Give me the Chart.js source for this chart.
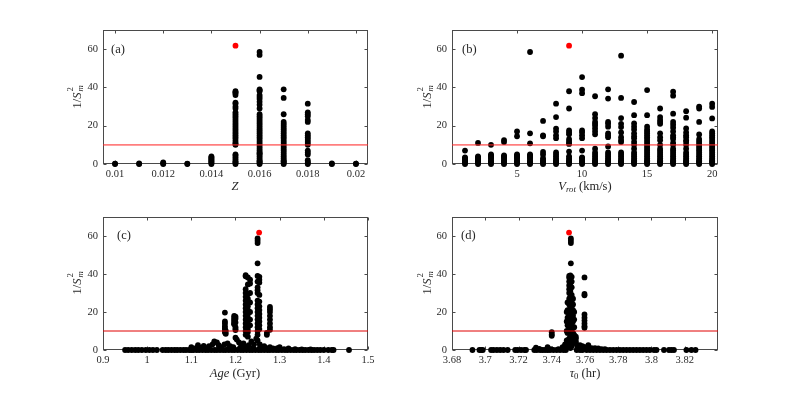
<!DOCTYPE html>
<html><head><meta charset="utf-8">
<script src="https://cdn.jsdelivr.net/npm/chart.js@4/dist/chart.umd.min.js"></script>
<style>
html,body{margin:0;padding:0;background:#fff;}
#wrap{position:relative;width:793px;height:394px;overflow:hidden;font-family:'Liberation Serif','Times New Roman',serif;color:#262626;}
canvas{position:absolute;}
.lbl{position:absolute;white-space:nowrap;font-size:12.5px;line-height:1;transform:translate(-50%,-50%);}
.ytitle{position:absolute;white-space:nowrap;font-size:12.5px;line-height:1;transform:translate(-50%,-50%) rotate(-90deg);}
.sx{position:relative;display:inline-block;width:0.55em;height:1em;vertical-align:baseline;}
.sp{position:absolute;left:0.1em;top:-0.4em;font-size:0.7em;line-height:1;}
.sb{position:absolute;left:0.1em;top:0.85em;font-size:0.7em;line-height:1;}
.panel{position:absolute;font-size:12.5px;line-height:1;transform:translateY(-50%);}
sub{font-size:0.7em;vertical-align:-0.3em;line-height:0;}
</style></head>
<body><div id="wrap">
<canvas id="cA" width="396" height="197" style="left:0;top:0"></canvas>
<canvas id="cB" width="397" height="197" style="left:396px;top:0"></canvas>
<canvas id="cC" width="396" height="197" style="left:0;top:197px"></canvas>
<canvas id="cD" width="397" height="197" style="left:396px;top:197px"></canvas>

<div class="ytitle" style="left:76px;top:97px">1/<i>S</i><span class="sx"><span class="sp">2</span><span class="sb"><i>m</i></span></span></div>
<div class="ytitle" style="left:426px;top:97px">1/<i>S</i><span class="sx"><span class="sp">2</span><span class="sb"><i>m</i></span></span></div>
<div class="ytitle" style="left:76px;top:283px">1/<i>S</i><span class="sx"><span class="sp">2</span><span class="sb"><i>m</i></span></span></div>
<div class="ytitle" style="left:426px;top:283px">1/<i>S</i><span class="sx"><span class="sp">2</span><span class="sb"><i>m</i></span></span></div>

<div class="lbl" style="left:235px;top:186px"><i>Z</i></div>
<div class="lbl" style="left:585px;top:186px"><i>V<sub>rot</sub></i> (km/s)</div>
<div class="lbl" style="left:235px;top:373px"><i>Age</i> (Gyr)</div>
<div class="lbl" style="left:585px;top:373px"><i>τ</i><sub>0</sub> (hr)</div>

<div class="panel" style="left:111px;top:49px">(a)</div>
<div class="panel" style="left:462px;top:49px">(b)</div>
<div class="panel" style="left:117px;top:235px">(c)</div>
<div class="panel" style="left:461px;top:235px">(d)</div>
</div>
<script>
// ---------------- DATA ----------------
const yTicks = [0, 20, 40, 60];
const threshold = 10;

// Panel (a): metallicity Z columns
const zValues = [0.010, 0.011, 0.012, 0.013, 0.014, 0.015, 0.016, 0.017, 0.018, 0.019, 0.020];
const zColumns = [
  [0, 0.2],
  [0, 0.3],
  [0, 0.4, 0.8],
  [0, 0.2],
  [0, 0.5, 1, 1.5, 2, 2.5, 3, 3.5, 4],
  [0, 0.5, 1, 1.5, 2.5, 3.5, 4.5, 5, 10, 10.5, 11, 12, 13, 14, 15, 16, 17, 18, 19, 20, 21, 22, 23, 24, 25, 26, 27, 29, 30, 31.5, 32, 36, 37, 37.5, 38],
  [0, 0.5, 1, 1.5, 2, 3, 4, 5, 5.5, 6, 7, 8, 9, 10, 11, 12, 13, 14, 15, 16, 17, 18, 19, 20, 21, 22, 23, 24, 25, 26, 29, 31, 32.5, 34, 35, 36, 38, 38.5, 39, 45.5, 57, 58.5],
  [0, 0.5, 1, 1.5, 2, 3, 4, 5, 6, 7, 8, 9, 10, 11, 12, 13, 14, 15, 16, 17, 18, 19, 20, 21, 22, 26, 34.5, 39],
  [0, 0.5, 1, 2, 5, 6, 7, 10, 11, 12, 13, 14, 15, 16, 22, 23, 25, 26, 27, 31.5],
  [0, 0.3],
  [0, 0.2]
];
const zTickValues = [0.010, 0.012, 0.014, 0.016, 0.018, 0.020];
const zTickLabels = ['0.01', '0.012', '0.014', '0.016', '0.018', '0.02'];

// Panel (b): rotation velocity columns
const vrotValues = [1, 2, 3, 4, 5, 6, 7, 8, 9, 10, 11, 12, 13, 14, 15, 16, 17, 18, 19, 20];
const vrotColumns = [
  [0, 0.5, 1, 1.5, 2, 2.5, 3, 3.5, 7],
  [0, 0.5, 1, 1.5, 2, 2.5, 3, 3.5, 4, 11],
  [0, 0.5, 1, 1.5, 2, 3, 3.5, 4, 4.5, 5, 10],
  [0, 0.5, 1, 1.5, 2, 3, 3.5, 4, 4.5, 11.5, 12.5],
  [0, 0.5, 1, 1.5, 2, 3, 3.5, 4, 4.5, 5, 14.5, 17],
  [0, 0.5, 1, 1.5, 2, 3, 3.5, 4, 4.5, 5, 10.8, 16, 58.5],
  [0, 0.5, 1, 1.5, 2, 3, 5, 6.3, 14.5, 15, 22.5],
  [0, 0.5, 1, 1.5, 2, 3, 4, 5, 6, 13.5, 15, 17, 18.5, 24.5, 31.5],
  [0, 0.5, 1, 1.5, 2, 3, 4, 6.5, 10.5, 11, 12, 13, 15.5, 16.5, 17.5, 29, 38],
  [0, 0.5, 1, 1.5, 2, 3, 3.5, 7, 13.5, 15, 16.5, 17.5, 37, 38.8, 45.4],
  [0, 0.5, 1, 1.5, 2, 3, 4, 5, 6, 8, 15.5, 17, 18.5, 20, 21, 22, 24, 26, 35.4],
  [0, 0.5, 1, 1.5, 2, 3, 4, 5, 6, 9.2, 14, 15, 16, 19.5, 21, 22, 34.2, 39],
  [0, 0.5, 1, 1.5, 2, 3, 4, 5, 6, 11.5, 12.5, 14, 16.5, 19.3, 21, 24, 34.5, 56.6],
  [0, 0.5, 1, 1.5, 2, 3, 4, 5, 6, 8, 10, 11.5, 13.4, 14.5, 16, 18, 19.5, 21.2, 25.5, 32.4],
  [0, 0.5, 1, 1.5, 2, 3, 4, 5, 6, 7, 8, 9, 10, 11, 12, 13, 14, 15, 16, 17, 18, 19.5, 25.5, 38.6],
  [0, 0.5, 1, 1.5, 2, 3, 4, 5, 6, 7, 8, 10, 12.4, 14, 16, 21, 22, 23, 24.5, 29],
  [0, 0.5, 1, 1.5, 2, 3, 4, 5, 6, 7, 8, 10, 11, 13, 14, 15, 17, 19, 20.5, 22, 26.3, 35.7, 37.8],
  [0, 0.5, 1, 1.5, 2, 3, 4, 5, 6, 8, 10, 11.5, 12.4, 14, 15, 16.5, 18.6, 24.2, 27.6],
  [0, 0.5, 1, 1.5, 2, 3, 4, 5, 6, 7, 8, 9, 10, 11, 12, 13, 15.4, 22, 29, 30],
  [0, 0.5, 1, 1.5, 2, 3, 4, 5, 6, 7, 8, 9, 10, 11, 12, 13, 14, 15, 16, 17, 23.8, 29.8, 31.5]
];
const vrotTickValues = [5, 10, 15, 20];
const vrotTickLabels = ['5', '10', '15', '20'];

// Panel (c): age (Gyr), value pairs
const ageData = [
  [0.950,0],[0.957,0],[0.965,0],[0.973,0],[0.980,0],[0.988,0],[0.997,0],[1.005,0],[1.013,0],[1.022,0],
  [1.035,0],[1.042,0],[1.048,0],[1.055,0],[1.062,0],[1.068,0],[1.075,0],[1.082,0],[1.088,0],[1.095,0],
  [1.100,0],[1.105,0],[1.112,0],[1.118,0],[1.125,0],[1.132,0],[1.138,0],[1.145,0],[1.152,0],[1.158,0],
  [1.165,0],[1.172,0],[1.178,0],[1.185,0],[1.192,0],[1.198,0],[1.205,0],[1.212,0],[1.218,0],[1.225,0],
  [1.232,0],[1.238,0],[1.245,0],[1.252,0],[1.258,0],[1.265,0],[1.272,0],[1.278,0],[1.285,0],[1.292,0],
  [1.298,0],[1.305,0],[1.312,0],[1.318,0],[1.325,0],[1.332,0],[1.338,0],[1.345,0],[1.352,0],[1.358,0],
  [1.365,0],[1.372,0],[1.378,0],[1.385,0],[1.392,0],[1.400,0],[1.410,0],[1.418,0],[1.422,0],[1.457,0],
  [1.100,1.5],[1.108,0.8],[1.115,2.5],[1.120,1.2],[1.128,2.2],[1.135,1],[1.140,2],[1.148,3],[1.152,4.5],[1.158,4],
  [1.162,2.5],[1.168,1.5],[1.175,3],[1.182,3.5],[1.188,2],[1.195,1.5],[1.200,6.5],[1.203,5.5],[1.208,4],[1.213,2.5],
  [1.218,3.5],[1.225,1.5],[1.230,2.5],[1.236,4.5],[1.242,3],[1.247,6],[1.250,5],[1.255,3],[1.260,1.5],[1.265,2],
  [1.270,1],[1.278,1.5],[1.285,0.8],[1.295,1],[1.300,1.5],[1.310,0.5],[1.320,0.8],[1.335,0.5],[1.350,0.3],[1.370,0.3],
  [1.185,1],[1.210,1],[1.240,1],[1.220,0.8],[1.255,1],
  [1.176,19.7],[1.176,15],[1.176,14],[1.176,12.5],[1.176,11.5],[1.176,10.5],[1.176,9.5],[1.177,9],[1.178,10],[1.178,8.5],
  [1.197,18],[1.197,17],[1.197,16],[1.197,15],[1.197,14],[1.197,13.5],
  [1.200,17.5],[1.200,16.5],[1.200,14.5],[1.200,12],[1.200,11],[1.200,10.5],
  [1.223,39.4],[1.223,38.8],[1.223,32],[1.223,30],[1.223,28],[1.223,26],[1.223,24],[1.223,22],[1.223,20],[1.223,18],
  [1.223,16],[1.223,14],[1.223,12],[1.223,10],[1.223,8],
  [1.228,38.2],[1.228,34.5],[1.228,29.5],[1.228,27],[1.228,25],[1.228,23],[1.228,21],[1.228,19],[1.228,17],[1.228,15],
  [1.228,13],[1.228,11],[1.228,9.5],[1.228,7],
  [1.233,37],[1.233,35],[1.233,30],[1.233,25],[1.233,20],[1.233,16],[1.233,13],
  [1.250,58.7],[1.250,57.5],[1.250,56.3],[1.250,45.6],[1.250,39],[1.250,36],[1.250,33],[1.250,31.5],[1.250,30],[1.250,26],
  [1.250,24],[1.250,22],[1.250,20],[1.250,18],[1.250,16],[1.250,14],[1.250,12],[1.250,10],[1.250,8],
  [1.254,38.5],[1.254,37],[1.254,35.5],[1.254,29],[1.254,25.5],[1.254,23],[1.254,21],[1.254,19],[1.254,17],[1.254,15],
  [1.254,13],[1.254,11],
  [1.278,22.7],[1.278,21.5],[1.278,20],[1.278,18],[1.278,16],[1.278,14],[1.278,12],[1.278,10.6],
  [1.271,9],[1.271,8]
];
const ageTickValues = [0.9, 1.0, 1.1, 1.2, 1.3, 1.4, 1.5];
const ageTickLabels = ['0.9', '1', '1.1', '1.2', '1.3', '1.4', '1.5'];

// Panel (d): tau_0 (hr), value pairs
const tauData = [
  [3.6923,0],[3.6965,0],[3.6975,0],[3.6985,0],[3.7035,0],[3.7050,0],[3.7070,0],[3.7090,0],[3.7110,0],[3.7135,0],
  [3.7180,0],[3.7195,0],[3.7215,0],[3.7235,0],[3.7245,0],[3.7295,0],[3.7310,0],[3.7330,0],[3.7345,0],[3.7360,0],
  [3.7375,0],[3.7390,0],[3.7410,0],[3.7430,0],[3.7450,0],[3.7470,0],[3.7485,0],[3.7550,0],[3.7570,0],[3.7585,0],
  [3.7610,0],[3.7630,0],[3.7650,0],[3.7670,0],[3.7690,0],[3.7710,0],[3.7730,0],[3.7750,0],[3.7770,0],[3.7790,0],
  [3.7810,0],[3.7830,0],[3.7850,0],[3.7870,0],[3.7890,0],[3.7910,0],[3.7930,0],[3.7950,0],[3.7970,0],[3.7990,0],
  [3.8015,0],[3.8030,0],[3.8075,0],[3.8105,0],[3.8120,0],[3.8135,0],[3.8210,0],[3.8240,0],[3.8265,0],
  [3.7305,1.2],[3.7325,0.6],[3.7375,1.5],[3.7395,0.5],[3.7440,0.5],[3.7465,1.5],[3.7480,3],[3.7555,2],[3.7570,2.5],[3.7585,2],
  [3.7605,1.5],[3.7620,2.5],[3.7640,1],[3.7660,1],[3.7680,0.8],[3.7700,0.5],[3.7720,0.4],
  [3.7400,9.4],[3.7400,8.2],[3.7400,7.5],
  [3.7545,7],[3.7545,6],[3.7545,4.5],[3.7545,3.5],
  [3.7597,38.2],[3.7597,29.5],[3.7597,28.8],[3.7597,18.7],[3.7597,17],[3.7597,15.5],[3.7597,14],[3.7597,12.5],[3.7597,11.7],
  [3.7515,58.7],[3.7515,57.5],[3.7515,56.3],[3.7515,45.6],
  [3.7505,39],[3.7505,38],[3.7505,36],[3.7505,34],[3.7505,32],[3.7505,30],[3.7505,27],[3.7505,24],[3.7505,21],[3.7505,18],
  [3.7505,15],[3.7505,12],[3.7505,9],[3.7505,6],[3.7505,3],
  [3.7512,39.3],[3.7512,37],[3.7512,35],[3.7512,33],[3.7512,31],[3.7512,28],[3.7512,25],[3.7512,22],[3.7512,19],[3.7512,16],
  [3.7512,13],[3.7512,10],[3.7512,7],[3.7512,4],[3.7512,1],
  [3.7520,38.5],[3.7520,36],[3.7520,33],[3.7520,29],[3.7520,26],[3.7520,23],[3.7520,20],[3.7520,17],[3.7520,14],[3.7520,11],
  [3.7520,8],[3.7520,5],[3.7520,2],
  [3.7528,27],[3.7528,24],[3.7528,21],[3.7528,18],[3.7528,15],[3.7528,12],[3.7528,9],[3.7528,6],
  [3.7495,25],[3.7495,21],[3.7495,17],[3.7495,13],[3.7495,9],[3.7495,5],[3.7495,2],
  [3.7535,20],[3.7535,16],[3.7535,12],[3.7535,8],[3.7535,4],
  [3.7490,20],[3.7490,15],[3.7490,10],[3.7490,5],[3.7490,1.5]
];
const tauTickValues = [3.68, 3.70, 3.72, 3.74, 3.76, 3.78, 3.80, 3.82];
const tauTickLabels = ['3.68', '3.7', '3.72', '3.74', '3.76', '3.78', '3.8', '3.82'];

// Best-fitting model (red point), per parameter
const bestZ = 0.015, bestVrot = 9, bestAge = 1.2535, bestTau = 3.7504, bestValue = 61.8;

// ---------------- CHARTS ----------------
const AXIS_COLOR = '#4a4a4a';
const TEXT_COLOR = '#2a2a2a';
const FONT = {family: "'Liberation Serif', 'Times New Roman', serif", size: 10.5};

function fromColumns(xs, cols) {
  const out = [];
  xs.forEach((x, i) => cols[i].forEach(v => out.push({x: x, y: v})));
  return out;
}
function fromPairs(pairs) { return pairs.map(p => ({x: p[0], y: p[1]})); }

const boxPlugin = {
  id: 'matlabBox',
  beforeDatasetsDraw(chart) {
    const {ctx, chartArea: a, scales} = chart;
    ctx.save();
    ctx.strokeStyle = AXIS_COLOR;
    ctx.lineWidth = 1;
    const L = Math.round(a.left) + 0.5, R = Math.round(a.right) - 0.5;
    const T = Math.round(a.top) + 0.5, B = Math.round(a.bottom) - 0.5;
    ctx.strokeRect(L, T, R - L, B - T);
    const tl = 3;
    ctx.beginPath();
    scales.x.ticks.forEach(t => {
      const px = Math.round(scales.x.getPixelForValue(t.value)) + 0.5;
      ctx.moveTo(px, B); ctx.lineTo(px, B - tl);
      ctx.moveTo(px, T); ctx.lineTo(px, T + tl);
    });
    scales.y.ticks.forEach(t => {
      const py = Math.round(scales.y.getPixelForValue(t.value)) + 0.5;
      ctx.moveTo(L, py); ctx.lineTo(L + tl, py);
      ctx.moveTo(R, py); ctx.lineTo(R - tl, py);
    });
    ctx.stroke();
    ctx.restore();
  }
};

function makeChart(id, cfg) {
  const ctx = document.getElementById(id);
  return new Chart(ctx, {
    type: 'scatter',
    data: {
      datasets: [
        {data: [{x: cfg.bestX, y: bestValue}], backgroundColor: '#ff0000', pointRadius: 2.9, borderWidth: 0, clip: false},
        {data: [{x: cfg.xMin, y: threshold}, {x: cfg.xMax, y: threshold}], showLine: true, borderColor: cfg.lineColor,
         borderWidth: cfg.lineWidth, pointRadius: 0, fill: false},
        {data: cfg.points, backgroundColor: '#000000', pointRadius: 2.9, borderWidth: 0, clip: false}
      ]
    },
    options: {
      responsive: false, maintainAspectRatio: false, animation: false,
      events: [],
      layout: {padding: {left: 0, top: cfg.padTop, right: cfg.padRight, bottom: 0}},
      plugins: {legend: {display: false}, tooltip: {enabled: false}},
      scales: {
        x: {
          type: 'linear', min: cfg.xMin, max: cfg.xMax,
          afterBuildTicks: s => { s.ticks = cfg.xTicks.map(v => ({value: v})); },
          afterFit: s => { s.height = cfg.xH; },
          grid: {display: false, drawTicks: false}, border: {display: false},
          ticks: {font: FONT, color: TEXT_COLOR, padding: 4, maxRotation: 0, autoSkip: false,
                  callback: (v, i) => cfg.xLabels[i]}
        },
        y: {
          type: 'linear', min: 0, max: 70,
          afterBuildTicks: s => { s.ticks = yTicks.map(v => ({value: v})); },
          afterFit: s => { s.width = cfg.yW; },
          grid: {display: false, drawTicks: false}, border: {display: false},
          ticks: {font: FONT, color: TEXT_COLOR, padding: 5, callback: v => String(v)}
        }
      }
    },
    plugins: [boxPlugin]
  });
}

makeChart('cA', {points: fromColumns(zValues, zColumns), bestX: bestZ, xMin: 0.0095, xMax: 0.0205,
  xTicks: zTickValues, xLabels: zTickLabels, padTop: 30, padRight: 28, yW: 103, xH: 33,
  lineColor: 'rgba(255,40,40,0.6)', lineWidth: 1.6});
makeChart('cB', {points: fromColumns(vrotValues, vrotColumns), bestX: bestVrot, xMin: 0, xMax: 20.45,
  xTicks: vrotTickValues, xLabels: vrotTickLabels, padTop: 30, padRight: 75, yW: 56, xH: 33,
  lineColor: 'rgba(255,40,40,0.6)', lineWidth: 1.6});
makeChart('cC', {points: fromPairs(ageData), bestX: bestAge, xMin: 0.9, xMax: 1.5,
  xTicks: ageTickValues, xLabels: ageTickLabels, padTop: 20, padRight: 28, yW: 103, xH: 44,
  lineColor: '#e00000', lineWidth: 1});
makeChart('cD', {points: fromPairs(tauData), bestX: bestTau, xMin: 3.68, xMax: 3.84,
  xTicks: tauTickValues, xLabels: tauTickLabels, padTop: 20, padRight: 75, yW: 56, xH: 44,
  lineColor: '#e00000', lineWidth: 1});
</script>
</body></html>
